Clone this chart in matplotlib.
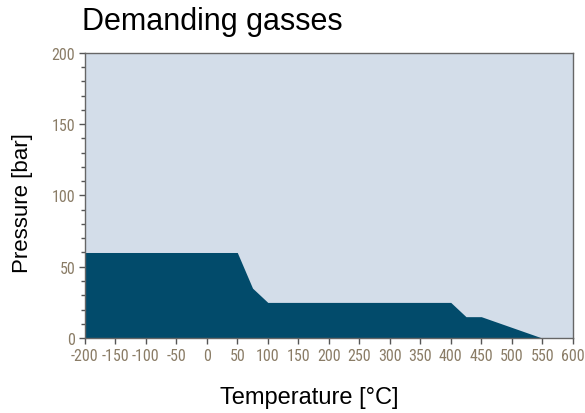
import numpy as np
import matplotlib
matplotlib.use("Agg")
import matplotlib.pyplot as plt
from matplotlib.ticker import MultipleLocator

# envelope
temp = [-200, 50, 75, 100, 400, 425, 450, 550, 600]
pressure = [60, 60, 35, 25, 25, 15, 15, 0, 0]

xticks = np.arange(-200, 601, 50)
yticks = [0, 50, 100, 150, 200]

fig = plt.figure(figsize=(5.85, 4.14), dpi=100)
ax = fig.add_axes([0.145, 0.181, 0.834, 0.689])
ax.set_facecolor('#d3dde9')
ax.fill_between(temp, pressure, 0, color='#024b6b', linewidth=0)

ax.set_xlim(-200, 600)
ax.set_ylim(0, 200)
ax.set_xticks(xticks)
ax.set_yticks(yticks)
ax.yaxis.set_minor_locator(MultipleLocator(10))

tickfont = dict(family=['Roboto Condensed', 'DejaVu Sans'], size=11.5)
ax.set_xticklabels([str(v) for v in xticks], fontdict=tickfont, color='#8a7c66')
ax.set_yticklabels([str(v) for v in yticks], fontdict=tickfont, color='#8a7c66')
ax.tick_params(which='both', color='#555555', width=1)
ax.tick_params(which='major', length=4, pad=3)
ax.tick_params(which='minor', length=3)

for s in ax.spines.values():
    s.set_color('#666666')
    s.set_linewidth(1)

fig.text(0.14, 0.947, 'Demanding gasses', fontsize=22, ha='left', va='center',
         family='Liberation Sans')
fig.text(0.528, 0.039, 'Temperature [°C]', fontsize=17, ha='center', va='center',
         family='Liberation Sans')
fig.text(0.038, 0.51, 'Pressure [bar]', fontsize=16, ha='center', va='center',
         rotation=90, family='Liberation Sans')

plt.savefig('out.png', dpi=100)
